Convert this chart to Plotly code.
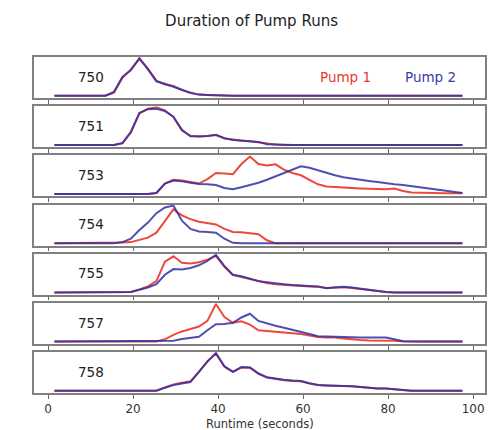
import plotly.graph_objects as go

# Bin centres (seconds)
runtime = [1.5, 3.5, 5.5, 7.5, 9.5, 11.5, 13.5, 15.5, 17.5, 19.5,
           21.5, 23.5, 25.5, 27.5, 29.5, 31.5, 33.5, 35.5, 37.5, 39.5,
           41.5, 43.5, 45.5, 47.5, 49.5, 51.5, 53.5, 55.5, 57.5, 59.5,
           61.5, 63.5, 65.5, 67.5, 69.5, 71.5, 73.5, 75.5, 77.5, 79.5,
           81.5, 83.5, 85.5, 87.5, 89.5, 91.5, 93.5, 95.5, 97.5]

stations = ["750", "751", "753", "754", "755", "757", "758"]


def pad(start, vals):
    out = [0] * 49
    for k, v in enumerate(vals):
        out[start + k] = v
    return out

# relative frequency of run durations
pump1_750 = pad(7, [0.08, 0.48, 0.70, 0.98, 0.72, 0.40, 0.30, 0.26, 0.15, 0.08, 0.03, 0.02, 0.01])
pump2_750 = pad(7, [0.10, 0.50, 0.68, 1.00, 0.70, 0.38, 0.32, 0.25, 0.16, 0.07, 0.03, 0.02, 0.01])

pump1_751 = pad(8, [0.04, 0.33, 0.84, 0.96, 1.00, 0.92, 0.74, 0.38, 0.24, 0.22, 0.24, 0.26,
                    0.17, 0.14, 0.12, 0.10, 0.07, 0.02, 0.01])
pump2_751 = pad(8, [0.05, 0.35, 0.85, 0.95, 0.96, 0.90, 0.75, 0.40, 0.23, 0.23, 0.24, 0.27,
                    0.18, 0.13, 0.12, 0.11, 0.08, 0.02, 0.01])

pump1_753 = pad(12, [0.03, 0.28, 0.38, 0.36, 0.32, 0.28, 0.40, 0.56, 0.55, 0.53, 0.80, 1.00,
                     0.80, 0.76, 0.79, 0.65, 0.56, 0.50, 0.38, 0.26, 0.20, 0.18, 0.17, 0.16,
                     0.15, 0.14, 0.14, 0.13, 0.15, 0.08, 0.04, 0.03, 0.03, 0.03, 0.02, 0.02, 0.02])
pump2_753 = pad(12, [0.03, 0.28, 0.36, 0.34, 0.30, 0.27, 0.26, 0.24, 0.16, 0.13, 0.18, 0.23,
                     0.30, 0.38, 0.47, 0.57, 0.65, 0.74, 0.70, 0.63, 0.57, 0.50, 0.45, 0.41,
                     0.37, 0.35, 0.32, 0.30, 0.26, 0.24, 0.21, 0.18, 0.15, 0.13, 0.10, 0.07, 0.03])

pump1_754 = pad(8, [0.02, 0.03, 0.08, 0.15, 0.28, 0.60, 0.90, 0.74, 0.64, 0.57, 0.53, 0.50,
                    0.38, 0.30, 0.29, 0.27, 0.24, 0.08])
pump2_754 = pad(8, [0.03, 0.12, 0.35, 0.55, 0.80, 0.95, 1.00, 0.60, 0.38, 0.31, 0.30, 0.28,
                    0.12, 0.01])

pump1_755 = pad(9, [0.01, 0.08, 0.16, 0.30, 0.82, 0.96, 0.79, 0.77, 0.80, 0.87, 0.97, 0.68,
                    0.46, 0.41, 0.35, 0.29, 0.25, 0.22, 0.20, 0.18, 0.17, 0.16, 0.15, 0.12,
                    0.13, 0.14, 0.12, 0.09, 0.05, 0.02, 0.01])
pump2_755 = pad(9, [0.01, 0.07, 0.13, 0.22, 0.47, 0.62, 0.61, 0.65, 0.72, 0.84, 1.00, 0.70,
                    0.47, 0.43, 0.36, 0.30, 0.27, 0.24, 0.22, 0.20, 0.18, 0.17, 0.16, 0.11,
                    0.13, 0.15, 0.13, 0.10, 0.06, 0.03, 0.01])

pump1_757 = pad(13, [0.06, 0.18, 0.27, 0.33, 0.40, 0.55, 1.00, 0.65, 0.50, 0.54, 0.45, 0.30,
                     0.28, 0.27, 0.25, 0.23, 0.20, 0.16, 0.12, 0.11, 0.11, 0.08, 0.05, 0.04,
                     0.03, 0.03, 0.03, 0.02, 0.01])
pump2_757 = pad(14, [0.02, 0.07, 0.10, 0.13, 0.30, 0.46, 0.47, 0.50, 0.64, 0.74, 0.55, 0.48,
                     0.42, 0.37, 0.32, 0.26, 0.20, 0.14, 0.13, 0.12, 0.12, 0.11, 0.11, 0.11,
                     0.11, 0.11, 0.06, 0.01])

pump1_758 = pad(13, [0.09, 0.17, 0.21, 0.25, 0.50, 0.78, 0.99, 0.64, 0.50, 0.62, 0.61, 0.45,
                     0.35, 0.31, 0.28, 0.26, 0.25, 0.19, 0.15, 0.14, 0.14, 0.13, 0.12, 0.10,
                     0.07, 0.06, 0.06, 0.04])
pump2_758 = pad(13, [0.08, 0.15, 0.19, 0.23, 0.50, 0.78, 1.00, 0.65, 0.50, 0.63, 0.62, 0.46,
                     0.36, 0.32, 0.29, 0.27, 0.26, 0.20, 0.15, 0.14, 0.14, 0.13, 0.12, 0.10,
                     0.07, 0.06, 0.06, 0.04])

pump1 = [pump1_750, pump1_751, pump1_753, pump1_754, pump1_755, pump1_757, pump1_758]
pump2 = [pump2_750, pump2_751, pump2_753, pump2_754, pump2_755, pump2_757, pump2_758]

xticks = [0, 20, 40, 60, 80, 100]

RED = "rgba(236,52,40,0.9)"
BLUE = "rgba(48,48,165,0.85)"
FONT = "DejaVu Sans"

# page body adds an 8px offset; figure sized to fit inside the window
W, H = 493, 422
mt, mb, ml, mr = 49, 37, 26, 16
plot_h = H - mt - mb
n = len(stations)
panel_h = 41
gap = (plot_h - n * panel_h) / (n - 1)

fig = go.Figure()
annotations = []
for i, st in enumerate(stations):
    k = i + 1
    sfx = "" if k == 1 else str(k)
    top = i * (panel_h + gap)
    bot = top + panel_h
    dom = [1 - bot / plot_h, 1 - top / plot_h]
    fig.add_trace(go.Scatter(x=runtime, y=pump1[i], mode="lines",
                             line=dict(color=RED, width=2),
                             xaxis="x" + sfx, yaxis="y" + sfx, showlegend=False))
    fig.add_trace(go.Scatter(x=runtime, y=pump2[i], mode="lines",
                             line=dict(color=BLUE, width=2),
                             xaxis="x" + sfx, yaxis="y" + sfx, showlegend=False))
    fig.layout["xaxis" + sfx] = dict(
        domain=[0, 1], anchor="y" + sfx, range=[-3.3, 102.8],
        tickvals=xticks, ticks="outside", ticklen=4, tickwidth=1, tickcolor="#666",
        showticklabels=(k == n), tickfont=dict(family=FONT, size=12, color="#333"),
        showline=True, mirror=True, linecolor="#808080", linewidth=1.5,
        showgrid=False, zeroline=False)
    fig.layout["yaxis" + sfx] = dict(
        domain=dom, anchor="x" + sfx, range=[-0.06, 1.03],
        showticklabels=False, ticks="", showline=True, mirror=True,
        linecolor="#808080", linewidth=1.5, showgrid=False, zeroline=False)
    annotations.append(dict(text=st, x=10, y=0.52, xref="x" + sfx,
                            yref="y" + sfx + " domain", showarrow=False,
                            font=dict(family=FONT, size=13.5, color="#222"),
                            xanchor="center", yanchor="middle"))

annotations.append(dict(text="Pump 1", x=70, y=0.52, xref="x", yref="y domain",
                        showarrow=False, font=dict(family=FONT, size=13.5, color="#e8392f"),
                        xanchor="center", yanchor="middle"))
annotations.append(dict(text="Pump 2", x=90, y=0.52, xref="x", yref="y domain",
                        showarrow=False, font=dict(family=FONT, size=13.5, color="#3a3aa8"),
                        xanchor="center", yanchor="middle"))
annotations.append(dict(text="Runtime (seconds)", x=0.5, y=-(416 - (H - mb)) / plot_h,
                        xref="paper", yref="paper", showarrow=False,
                        font=dict(family=FONT, size=11.5, color="#333"),
                        xanchor="center", yanchor="middle"))

fig.update_layout(width=W, height=H, margin=dict(l=ml, r=mr, t=mt, b=mb),
                  paper_bgcolor="white", plot_bgcolor="white",
                  title=dict(text="Duration of Pump Runs", x=0.494, y=1 - 13 / H,
                             xref="container", yref="container",
                             xanchor="center", yanchor="middle",
                             font=dict(family=FONT, size=15, color="#222")),
                  annotations=annotations, font=dict(family=FONT))

fig.write_html("out.html")
